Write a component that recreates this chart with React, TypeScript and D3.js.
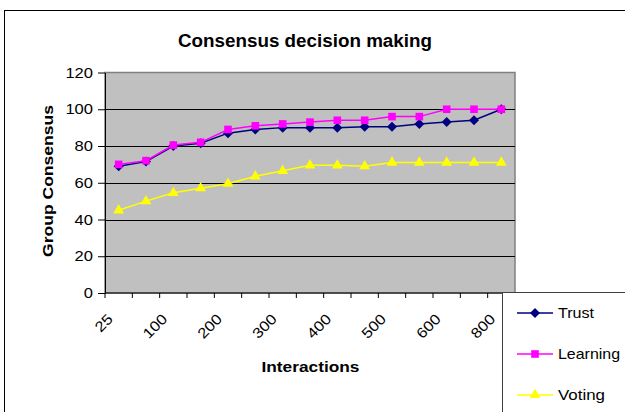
import * as d3 from "d3";
import { useEffect, useRef } from "react";

const interactions = ["25", "50", "100", "150", "200", "250", "300", "350", "400", "450", "500", "550", "600", "700", "800"];
const trust = [69, 71.5, 80, 81.5, 87, 89, 90, 90, 90, 90.5, 90.5, 92, 93, 94, 100];
const learning = [70, 72, 80.5, 82, 89, 91, 92, 93, 94, 94, 96, 96, 100, 100, 100];
const voting = [45, 50, 54.5, 57, 59.5, 63.5, 66.5, 69.5, 69.5, 69, 71, 71, 71, 71, 71];
const yTicks = [0, 20, 40, 60, 80, 100, 120];
const shownLabels = ["25", "100", "200", "300", "400", "500", "600", "800"];

// square diamond, like the Excel marker
const diamond = {
  draw(ctx: d3.Path, size: number) {
    const r = Math.sqrt(size / 2);
    ctx.moveTo(0, -r);
    ctx.lineTo(r, 0);
    ctx.lineTo(0, r);
    ctx.lineTo(-r, 0);
    ctx.closePath();
  },
};

export default function App() {
  const svgRef = useRef<SVGSVGElement | null>(null);

  useEffect(() => {
    const width = 625;
    const height = 412;
    const plot = { left: 105, right: 515, top: 72.5, bottom: 293 };
    const font = "Liberation Sans, Arial, sans-serif";
    const digitW = 9.2;

    const svg = d3.select(svgRef.current);
    svg.selectAll("*").remove();
    svg.attr("width", width).attr("height", height);

    // chart frame
    svg
      .append("rect")
      .attr("x", 4.5)
      .attr("y", 10.5)
      .attr("width", width + 10)
      .attr("height", height + 10)
      .attr("fill", "white")
      .attr("stroke", "#000")
      .attr("stroke-width", 1);

    const x = d3.scaleBand().domain(interactions).range([plot.left, plot.right]).padding(0);
    const y = d3.scaleLinear().domain([0, 120]).range([plot.bottom, plot.top]);
    const cx = (c: string) => x(c)! + x.bandwidth() / 2;

    svg
      .append("rect")
      .attr("x", plot.left)
      .attr("y", plot.top)
      .attr("width", plot.right - plot.left)
      .attr("height", plot.bottom - plot.top)
      .attr("fill", "#c0c0c0")
      .attr("stroke", "#808080")
      .attr("stroke-width", 1.5);

    // grid lines
    svg
      .append("g")
      .selectAll("line")
      .data(yTicks.filter((t) => t > 0 && t < 120))
      .join("line")
      .attr("x1", plot.left)
      .attr("x2", plot.right)
      .attr("y1", (d) => Math.round(y(d)) + 0.5)
      .attr("y2", (d) => Math.round(y(d)) + 0.5)
      .attr("stroke", "#000")
      .attr("stroke-width", 1);

    // y axis
    const yAxis = svg
      .append("g")
      .attr("transform", `translate(${plot.left},0)`)
      .call(d3.axisLeft(y).tickValues(yTicks).tickSize(7).tickSizeOuter(0).tickPadding(5));
    yAxis.select(".domain").attr("stroke", "#000");
    yAxis
      .selectAll<SVGTextElement, number>("text")
      .attr("font-family", font)
      .attr("font-size", 14.5)
      .attr("fill", "#000")
      .attr("textLength", (d) => String(d).length * digitW)
      .attr("lengthAdjust", "spacingAndGlyphs");

    // x axis
    const xAxis = svg.append("g").attr("transform", `translate(0,${plot.bottom})`);
    xAxis
      .append("line")
      .attr("x1", plot.left)
      .attr("x2", plot.right)
      .attr("stroke", "#000");
    xAxis
      .selectAll("line.tick")
      .data([...interactions.map((c) => x(c)!), plot.right])
      .join("line")
      .attr("class", "tick")
      .attr("x1", (d) => d)
      .attr("x2", (d) => d)
      .attr("y1", 0)
      .attr("y2", 5)
      .attr("stroke", "#000");
    xAxis
      .selectAll("text")
      .data(shownLabels)
      .join("text")
      .attr("transform", (d) => `translate(${cx(d) - 5},${27}) rotate(-45)`)
      .attr("text-anchor", "end")
      .attr("font-family", font)
      .attr("font-size", 14.5)
      .attr("textLength", (d) => d.length * digitW)
      .attr("lengthAdjust", "spacingAndGlyphs")
      .text((d) => d);

    // series
    const series = [
      { name: "Trust", values: trust, color: "#000080", symbol: diamond, size: 50, len: 36 },
      { name: "Learning", values: learning, color: "#ff00ff", symbol: d3.symbolSquare, size: 58, len: 62 },
      { name: "Voting", values: voting, color: "#ffff00", symbol: d3.symbolTriangle, size: 50, len: 47 },
    ];

    const line = d3
      .line<number>()
      .x((_, i) => cx(interactions[i]))
      .y((d) => y(d));

    series.forEach((s) => {
      svg
        .append("path")
        .attr("d", line(s.values)!)
        .attr("fill", "none")
        .attr("stroke", s.color)
        .attr("stroke-width", 1.5);
      svg
        .append("g")
        .selectAll("path")
        .data(s.values)
        .join("path")
        .attr("transform", (d, i) => `translate(${cx(interactions[i])},${y(d)})`)
        .attr("d", d3.symbol(s.symbol, s.size)()!)
        .attr("fill", s.color);
    });

    // titles
    svg
      .append("text")
      .attr("x", 305)
      .attr("y", 47)
      .attr("text-anchor", "middle")
      .attr("font-family", font)
      .attr("font-weight", "bold")
      .attr("font-size", 18)
      .attr("textLength", 254)
      .attr("lengthAdjust", "spacingAndGlyphs")
      .text("Consensus decision making");

    svg
      .append("text")
      .attr("x", 310.5)
      .attr("y", 372)
      .attr("text-anchor", "middle")
      .attr("font-family", font)
      .attr("font-weight", "bold")
      .attr("font-size", 15)
      .attr("textLength", 98)
      .attr("lengthAdjust", "spacingAndGlyphs")
      .text("Interactions");

    svg
      .append("text")
      .attr("transform", `translate(53,181) rotate(-90)`)
      .attr("text-anchor", "middle")
      .attr("font-family", font)
      .attr("font-weight", "bold")
      .attr("font-size", 15)
      .attr("textLength", 152)
      .attr("lengthAdjust", "spacingAndGlyphs")
      .text("Group Consensus");

    // legend
    const legend = svg.append("g");
    legend
      .append("rect")
      .attr("x", 502.5)
      .attr("y", 292.5)
      .attr("width", 200)
      .attr("height", 200)
      .attr("fill", "white")
      .attr("stroke", "#404040")
      .attr("stroke-width", 1);
    series.forEach((s, i) => {
      const ly = 313 + i * 41;
      legend
        .append("line")
        .attr("x1", 517)
        .attr("x2", 553)
        .attr("y1", ly)
        .attr("y2", ly)
        .attr("stroke", s.color)
        .attr("stroke-width", 1.5);
      legend
        .append("path")
        .attr("transform", `translate(535,${ly})`)
        .attr("d", d3.symbol(s.symbol, s.size)()!)
        .attr("fill", s.color);
      legend
        .append("text")
        .attr("x", 558)
        .attr("y", ly + 5)
        .attr("font-family", font)
        .attr("font-size", 14.5)
        .attr("textLength", s.len)
        .attr("lengthAdjust", "spacingAndGlyphs")
        .text(s.name);
    });
  }, []);

  return (
    <div style={{ position: "absolute", left: 0, top: 0 }}>
      <svg ref={svgRef} style={{ display: "block" }}></svg>
    </div>
  );
}
